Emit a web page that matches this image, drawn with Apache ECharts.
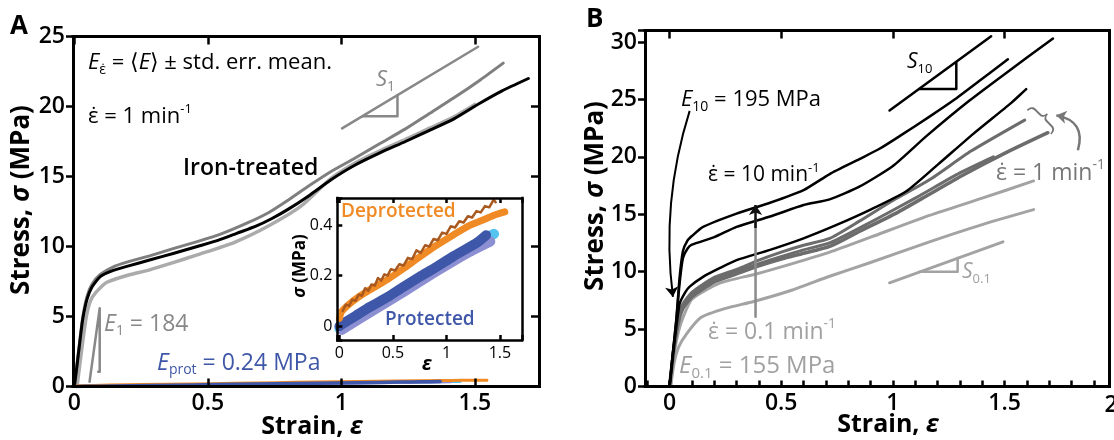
<!DOCTYPE html>
<html><head><meta charset="utf-8">
<script src="https://cdn.jsdelivr.net/npm/echarts@6/dist/echarts.min.js"></script>
<style>html,body{margin:0;padding:0;background:#fff}#c{width:1114px;height:440px}</style>
</head><body><div id="c"></div>
<script>
// ================= DATA =================
// Panel A tick labels
const aXTicks = [0, 0.5, 1, 1.5];
const aYTicks = [0, 5, 10, 15, 20, 25];
const insetXTicks = [0, 0.5, 1, 1.5];
const insetYTicks = [0, 0.2, 0.4];
// Panel B tick labels
const bXTicks = [0, 0.5, 1, 1.5];
const bYTicks = [0, 5, 10, 15, 20, 25, 30];

// Panel A: iron-treated curves [strain, stress MPa]
const ironBlack = [[0,0],[0.01,1.5],[0.02,3.1],[0.031,4.75],[0.047,6.2],[0.066,7.1],[0.097,7.85],[0.146,8.3],[0.2,8.6],[0.285,9.05],[0.37,9.5],[0.46,10.0],[0.54,10.45],[0.61,10.95],[0.68,11.45],[0.74,12.0],[0.8,12.65],[0.88,13.65],[0.96,14.75],[1.05,15.8],[1.146,16.7],[1.24,17.5],[1.33,18.3],[1.42,19.1],[1.52,20.25],[1.6,21.1],[1.70,22.0]];
const ironGray = [[0,0],[0.01,1.6],[0.02,3.2],[0.031,4.9],[0.047,6.4],[0.066,7.3],[0.097,8.0],[0.146,8.55],[0.2,8.9],[0.285,9.35],[0.37,9.85],[0.46,10.35],[0.55,10.9],[0.65,11.7],[0.73,12.45],[0.8,13.3],[0.88,14.35],[0.96,15.34],[1.05,16.3],[1.146,17.37],[1.24,18.4],[1.33,19.5],[1.42,20.6],[1.52,21.9],[1.606,23.1]];
const ironLightGray = [[0.01,0],[0.02,1.5],[0.03,3.0],[0.045,5.0],[0.06,6.1],[0.08,6.7],[0.122,7.45],[0.2,7.95],[0.285,8.35],[0.37,8.85],[0.46,9.4],[0.6,10.3],[0.73,11.5],[0.85,12.9],[0.96,14.85],[1.05,15.95],[1.146,16.85],[1.24,17.65],[1.33,18.45],[1.42,19.25],[1.5,20.15]];

// Panel A: protected / deprotected (MPa)
const deprotected = [[0.0,0.03],[0.02,0.057],[0.13,0.10],[0.25,0.135],[0.44,0.182],[0.6,0.228],[0.75,0.274],[0.9,0.318],[1.06,0.36],[1.2,0.395],[1.376,0.426],[1.45,0.44],[1.545,0.452]];
const deprotectedDark = [[0.03,0.06],[0.06,0.085],[0.09,0.08],[0.12,0.105],[0.15,0.1],[0.18,0.125],[0.21,0.12],[0.24,0.15],[0.27,0.14],[0.3,0.165],[0.33,0.16],[0.36,0.19],[0.39,0.18],[0.42,0.205],[0.45,0.2],[0.48,0.225],[0.52,0.22],[0.56,0.245],[0.6,0.24],[0.64,0.27],[0.68,0.265],[0.72,0.3],[0.76,0.29],[0.8,0.32],[0.84,0.315],[0.88,0.345],[0.92,0.34],[0.96,0.37],[1.0,0.365],[1.04,0.395],[1.08,0.39],[1.12,0.415],[1.16,0.41],[1.2,0.435],[1.24,0.43],[1.28,0.455],[1.32,0.45],[1.36,0.475],[1.4,0.47],[1.44,0.5],[1.46,0.49]];
const protectedBlue = [[0.0,0.0],[0.035,0.01],[0.15,0.04],[0.285,0.076],[0.45,0.115],[0.6,0.156],[0.75,0.195],[0.91,0.235],[1.06,0.275],[1.22,0.314],[1.3,0.335],[1.37,0.36]];
const protectedLightBlue = [[0.0,-0.01],[0.05,0.01],[0.3,0.07],[0.6,0.145],[0.9,0.225],[1.2,0.305],[1.35,0.345],[1.445,0.365]];
const protectedLavender = [[0.02,-0.015],[0.3,0.058],[0.6,0.135],[0.9,0.215],[1.2,0.29],[1.41,0.335]];

// Panel A annotation geometry (data units)
const slopeS1 = [[1.0026,18.44],[1.512,24.27]];
const triS1 = [[1.08,19.3],[1.21,19.3],[1.21,20.79]];
const triE1 = [[0.057,0.34],[0.095,5.59],[0.095,1.06],[0.0895,1.06]];

// Panel B curves [strain, stress MPa]
const rate10a = [[0,0],[0.015,3.0],[0.03,5.8],[0.045,9.5],[0.06,11.8],[0.08,12.7],[0.1,13.1],[0.15,13.9],[0.3,15.06],[0.45,16.0],[0.6,17.1],[0.717,18.5],[0.85,19.8],[0.94,20.7],[1.03,21.8],[1.164,23.5],[1.27,24.9],[1.4,26.8],[1.515,28.5]];
const rate10b = [[0,0],[0.015,2.9],[0.03,5.7],[0.045,9.0],[0.06,11.2],[0.08,12.0],[0.1,12.35],[0.2,13.0],[0.3,13.9],[0.45,14.8],[0.6,15.8],[0.717,16.3],[0.85,17.4],[1.0,19.2],[1.15,21.8],[1.343,24.9],[1.5,27.2],[1.717,30.3]];
const rate10c = [[0,0],[0.02,3.5],[0.045,7.2],[0.07,8.2],[0.09,8.7],[0.15,9.55],[0.224,10.3],[0.3,11.0],[0.45,11.9],[0.6,12.9],[0.74,14.0],[0.9,15.4],[1.06,17.0],[1.2,19.3],[1.36,22.0],[1.53,24.7],[1.597,25.9]];
const rate1a = [[0,0],[0.02,3.5],[0.04,6.0],[0.06,7.2],[0.1,8.2],[0.2,9.5],[0.3,10.2],[0.4,11.0],[0.5,11.7],[0.6,12.3],[0.717,12.9],[0.85,14.4],[1.0,16.2],[1.164,18.0],[1.35,20.5],[1.59,23.2]];
const rate1b = [[0,0],[0.02,3.3],[0.04,5.6],[0.06,6.8],[0.1,7.8],[0.2,9.1],[0.3,9.8],[0.4,10.5],[0.5,11.1],[0.6,11.6],[0.717,12.2],[0.85,13.5],[1.015,15.1],[1.16,16.7],[1.313,18.4],[1.5,20.3],[1.694,22.1]];
const rate1c = [[0,0],[0.02,3.4],[0.04,5.8],[0.06,7.0],[0.1,8.0],[0.2,9.3],[0.4,10.7],[0.6,11.9],[0.717,12.5],[0.9,14.3],[1.1,16.4],[1.3,18.6],[1.45,20.0]];
const rate01a = [[0.005,0],[0.02,2.8],[0.04,4.8],[0.06,6.0],[0.1,7.6],[0.224,9.0],[0.388,9.8],[0.55,10.7],[0.717,11.7],[0.9,13.0],[1.164,14.9],[1.4,16.4],[1.63,17.9]];
const rate01b = [[0.005,0],[0.02,2.0],[0.04,3.4],[0.077,4.6],[0.14,6.0],[0.25,6.8],[0.377,7.4],[0.55,8.4],[0.717,9.6],[0.9,10.8],[1.164,12.6],[1.4,14.1],[1.63,15.4]];

// Panel B annotation geometry (data units)
const slopeS10 = [[0.985,24.04],[1.44,30.5]];
const triS10 = [[1.12,25.9],[1.284,25.9],[1.284,28.25]];
const slopeS01 = [[0.985,9.03],[1.493,12.6]];
const triS01 = [[1.12,10.0],[1.29,10.0],[1.29,11.2]];
const arrowE10 = [[0.09,24.0],[0.015,7.8]];
const arrowRateShaft = [[0.385,6.07],[0.385,14.6]];
const arrowRateHead = [[0.385,13.8],[0.385,15.8]];
const arrowRate1 = [[1.8285,20.57],[1.7318,23.61]];

// ================= CHART =================
const FONT = "'Open Sans', 'DejaVu Sans', sans-serif";
const chart = echarts.init(document.getElementById('c'));

function line(data, xi, yi, color, width, extra) {
  return Object.assign({type:'line', data:data, xAxisIndex:xi, yAxisIndex:yi, showSymbol:false, symbol:'none',
    silent:true, animation:false, lineStyle:{color:color, width:width, cap:'round', join:'round'}, z:3}, extra||{});
}
function curve(data, xi, yi, color, width, extra) {
  return line(data, xi, yi, color, width, Object.assign({smooth:0.2}, extra||{}));
}
function arrow(pts, xi, yi, color, width, curveness, size) {
  return {type:'lines', coordinateSystem:'cartesian2d', xAxisIndex:xi, yAxisIndex:yi, silent:true, animation:false,
    symbol:['none','arrow'], symbolSize:size||10,
    lineStyle:{color:color, width:width, curveness:curveness||0, opacity:1},
    data:[{coords:pts}], z:5};
}
function only(list) {
  return function (v) {
    for (let i = 0; i < list.length; i++) { if (Math.abs(list[i] - v) < 1e-6) return String(list[i]); }
    return '';
  };
}
const tickLabel = {color:'#000', fontFamily:FONT, fontSize:23, fontWeight:600};
// ticks come from the axis' own nice interval (splitNumber), labels filtered by the tick-label lists
function xAx(grid, pos, min, max, split, labels, tickLen, labelStyle, lw) {
  return {type:'value', gridIndex:grid, position:pos, min:min, max:max, splitNumber:split, z:8,
    splitLine:{show:false}, axisLine:{show:true, onZero:false, lineStyle:{color:'#000', width:lw||3, cap:'square'}},
    axisTick:{show:true, inside:true, length:tickLen, lineStyle:{color:'#000', width:2.5}},
    axisLabel: labels ? Object.assign({show:true, margin:5, formatter:only(labels), showMinLabel:true, showMaxLabel:true}, labelStyle) : {show:false}};
}
function yAx(grid, pos, min, max, split, labels, showTicks, inside, labelStyle, margin, len, lw) {
  return {type:'value', gridIndex:grid, position:pos, min:min, max:max, splitNumber:split, z:8,
    splitLine:{show:false}, axisLine:{show:true, onZero:false, lineStyle:{color:'#000', width:lw||3, cap:'square'}},
    axisTick:{show:showTicks, inside:inside, length:len||7, lineStyle:{color:'#000', width:2.5}},
    axisLabel: labels ? Object.assign({show:true, margin:margin, formatter:only(labels)}, labelStyle) : {show:false}};
}

function rich(size, color, weight) {
  return {
    n:{fontSize:size, fontFamily:FONT, fontWeight:weight||400, fill:color, lineHeight:size+6, verticalAlign:'middle'},
    i:{fontSize:size, fontFamily:FONT, fontWeight:weight||400, fontStyle:'italic', fill:color, lineHeight:size+6, verticalAlign:'middle'},
    sub:{fontSize:Math.round(size*0.62), fontFamily:FONT, fontWeight:weight||400, fill:color, lineHeight:Math.round(size*0.62), verticalAlign:'bottom'},
    sup:{fontSize:Math.round(size*0.6), fontFamily:FONT, fontWeight:weight||400, fill:color, lineHeight:Math.round(size*0.6), verticalAlign:'top'}
  };
}
function txt(text, x, y, size, color, weight, opts) {
  opts = opts || {};
  return {type:'text', x:x, y:y, rotation:opts.rotation||0, z:10, silent:true,
    style:{text:text, rich:rich(size, color, weight), align:opts.align||'left', verticalAlign:'middle',
      fontSize:size, fontFamily:FONT, fontWeight:weight||400, fill:color}};
}

const GA = '#888888';   // panel A annotation gray
const LG = '#a3a3a3';   // light gray
const DG = '#6c6c6c';   // dark gray
const BLUE = '#3f57a8';
const ORANGE = '#f08a24';
const insetLabel = {color:'#000', fontFamily:FONT, fontSize:16, fontWeight:400};

const option = {
  backgroundColor:'#fff',
  animation:false,
  grid:[
    {left:73, top:36.5, width:466, height:350, show:false},
    {left:337.3, top:198, width:184.5, height:142, show:true, borderWidth:0, backgroundColor:'#fff', z:4},
    {left:645, top:30.5, width:464.5, height:356, show:false}
  ],
  xAxis:[
    xAx(0,'bottom',-0.005,1.74, 4, aXTicks, 8, tickLabel),
    xAx(0,'top',-0.005,1.74, 4, null, 8),
    xAx(1,'bottom',-0.02,1.704, 4, insetXTicks, 5, insetLabel, 2.5),
    xAx(1,'top',-0.02,1.704, 4, null, 5, null, 2.5),
    xAx(2,'bottom',-0.11,1.97, 21, bXTicks, 6, tickLabel),
    xAx(2,'top',-0.11,1.97, 4, null, 8)
  ],
  yAxis:[
    yAx(0,'left',0,25, 5, aYTicks, true, false, tickLabel, 8, 7),
    yAx(0,'right',0,25, 5, null, true, true, null, 0, 8),
    yAx(1,'left',-0.055,0.507, 3, insetYTicks, true, true, insetLabel, 5, 5, 2.5),
    yAx(1,'right',-0.055,0.507, 3, null, false, true, null, 0, 5, 2.5),
    yAx(2,'left',0,31, 6, bYTicks, true, false, tickLabel, 8, 7),
    yAx(2,'right',0,31, 6, null, false, true, null, 0, 5)
  ],
  series:[
    // ---- Panel A main ----
    curve(ironLightGray,0,0,'#ababab',3.5),
    curve(ironGray,0,0,'#7f7f7f',3),
    curve(ironBlack,0,0,'#000',3),
    curve(protectedLightBlue,0,0,'#55c3ef',3),
    curve(protectedLavender,0,0,'#8c8fd2',3),
    curve(deprotected,0,0,ORANGE,3),
    curve(protectedBlue,0,0,BLUE,3.5),
    line(slopeS1,0,0,GA,2.5),
    line(triS1,0,0,GA,2.5),
    line(triE1,0,0,GA,2.5),
    // ---- Inset ----
    curve(protectedLightBlue,2,2,'#55c3ef',10,{z:7}),
    curve(protectedLavender,2,2,'#8c8fd2',10,{z:7}),
    curve(protectedBlue,2,2,BLUE,10,{z:7}),
    curve(deprotected,2,2,ORANGE,7,{z:7}),
    line(deprotectedDark,2,2,'#a9581e',2.5,{z:7}),
    // ---- Panel B ----
    curve(rate01b,4,4,LG,3),
    curve(rate01a,4,4,LG,3),
    curve(rate1c,4,4,DG,3),
    curve(rate1b,4,4,DG,3.5),
    curve(rate1a,4,4,DG,3),
    curve(rate10c,4,4,'#000',2.5),
    curve(rate10b,4,4,'#000',2.5),
    curve(rate10a,4,4,'#000',2.5),
    line(slopeS10,4,4,'#000',2.5),
    line(triS10,4,4,'#000',2.5),
    line(slopeS01,4,4,LG,3),
    line(triS01,4,4,LG,2.5),
    arrow(arrowE10,4,4,'#000',2,-0.11,10),
    line(arrowRateShaft,4,4,'#8a8a8a',2.5),
    arrow(arrowRateHead,4,4,'#111',2.5,0,10),
    arrow(arrowRate1,4,4,'#777',2.5,-0.55,10)
  ],
  graphic:[
    // Panel A
    txt('A', 10, 27, 26, '#000', 700),
    txt('Stress, {i|σ} (MPa)', 22, 200, 26, '#000', 700, {rotation:Math.PI/2, align:'center'}),
    txt('Strain, {i|ε}', 312, 427, 25, '#000', 700, {align:'center'}),
    txt('{i|E}{sub|ε̇}{n| = ⟨}{i|E}{n|⟩ ± std. err. mean.}', 88, 63, 22, '#000', 400),
    txt('{n|ε̇ = 1 min}{sup|-1}', 88, 117, 22, '#000', 400),
    txt('{n|Iron-treated}', 183, 168, 23, '#000', 600),
    txt('{i|S}{sub|1}', 376, 80, 22, GA, 400),
    txt('{i|E}{sub|1}{n| = 184}', 104, 324, 23, GA, 400),
    txt('{i|E}{sub|prot}{n| = 0.24 MPa}', 157, 363, 23, BLUE, 400),
    txt('{n|Deprotected}', 341, 212, 19, ORANGE, 600),
    txt('{n|Protected}', 385, 320, 19, BLUE, 600),
    txt('{i|σ} (MPa)', 300, 266, 17, '#000', 700, {rotation:Math.PI/2, align:'center'}),
    txt('{i|ε}', 427, 365, 19, '#000', 700, {align:'center'}),
    // Panel B
    txt('B', 586, 20, 26, '#000', 700),
    txt('Stress, {i|σ} (MPa)', 596, 196, 26, '#000', 700, {rotation:Math.PI/2, align:'center'}),
    txt('Strain, {i|ε}', 888, 425, 25, '#000', 700, {align:'center'}),
    txt('2', 1111, 405, 23, '#000', 600, {align:'center'}),
    txt('{i|E}{sub|10}{n| = 195 MPa}', 681, 100, 22, '#000', 400),
    txt('{n|ε̇ = 10 min}{sup|-1}', 708, 175, 21, '#000', 400),
    txt('{n|ε̇ = 0.1 min}{sup|-1}', 708, 332, 23, '#a0a0a0', 400),
    txt('{i|E}{sub|0.1}{n| = 155 MPa}', 679, 366, 24, '#a0a0a0', 400),
    txt('{i|S}{sub|10}', 907, 62, 21, '#000', 400),
    txt('{i|S}{sub|0.1}', 962, 272, 21, '#a0a0a0', 400),
    txt('{n|ε̇ = 1 min}{sup|-1}', 996, 173, 23, '#777', 400),
    txt('}', 1043, 118, 40, '#777', 300, {rotation:Math.PI/4, align:'center'})
  ]
};
chart.setOption(option);
</script>
</body></html>
